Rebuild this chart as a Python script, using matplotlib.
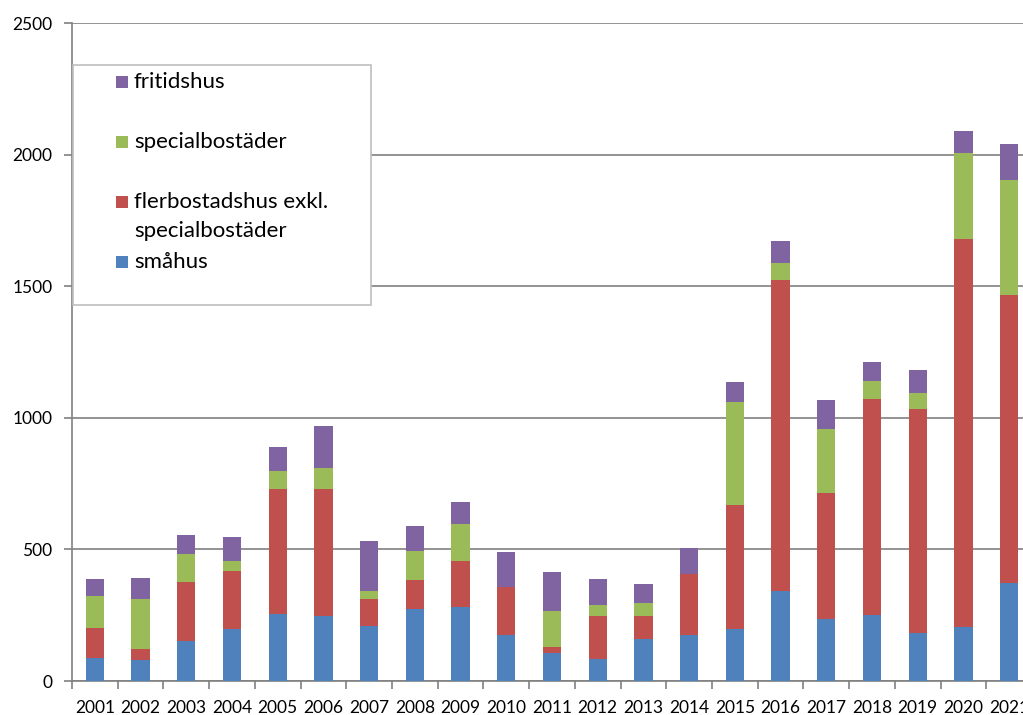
import numpy as np
import matplotlib
matplotlib.use("Agg")
import matplotlib.pyplot as plt
from matplotlib.patches import Rectangle

plt.rcParams['font.family'] = ['Lato', 'DejaVu Sans']

# data
years = [str(y) for y in range(2001, 2022)]
smahus = [86, 80, 153, 196, 254, 246, 210, 272, 282, 174, 105, 83, 158, 176,
          199, 342, 237, 251, 181, 206, 371]
flerbostadshus = [117, 42, 223, 221, 476, 485, 103, 111, 174, 183, 24, 165, 90, 229,
                  470, 1181, 478, 820, 851, 1474, 1096]
specialbostader = [120, 190, 108, 40, 66, 77, 29, 110, 140, 0, 137, 40, 48, 0,
                   392, 66, 244, 70, 64, 327, 435]
fritidshus = [65, 81, 71, 91, 92, 160, 189, 97, 85, 133, 150, 99, 74, 102,
              74, 82, 108, 70, 84, 81, 140]

series = [
    ("småhus", smahus, "#4F81BD"),
    ("flerbostadshus exkl.\nspecialbostäder", flerbostadshus, "#C0504D"),
    ("specialbostäder", specialbostader, "#9BBB59"),
    ("fritidshus", fritidshus, "#8064A2"),
]

fig = plt.figure(figsize=(10.23, 7.15), dpi=100)
ax = fig.add_axes([72 / 1023, 1 - 681 / 715, 960 / 1023, 658 / 715])

x = np.arange(len(years))
bottom = np.zeros(len(years))
for name, vals, col in series:
    ax.bar(x, vals, width=0.4, bottom=bottom, color=col, zorder=3)
    bottom += np.array(vals)

ax.set_xlim(-0.5, len(years) - 0.5)
ax.set_ylim(0, 2500)
ax.set_yticks(range(0, 2501, 500))
ax.yaxis.grid(True, color="#808080", linewidth=1.2, zorder=0)

# ticks between categories, labels at centres
ax.set_xticks(np.arange(-0.5, len(years), 1.0))
ax.set_xticklabels([])
ax.set_xticks(x, minor=True)
ax.set_xticklabels(years, minor=True, fontsize=12.5)
ax.tick_params(axis="x", which="minor", length=0, pad=14)
ax.tick_params(axis="x", which="major", length=6, color="#808080", width=1.2)
ax.tick_params(axis="y", length=6, color="#808080", width=1.2, labelsize=12.5, pad=8)

for s in ["top", "right"]:
    ax.spines[s].set_visible(False)
for s in ["left", "bottom"]:
    ax.spines[s].set_color("#808080")
    ax.spines[s].set_linewidth(1.2)

# legend box
fig.patches.append(Rectangle((73 / 1023, 1 - 305 / 715), 298 / 1023, 240 / 715,
                             transform=fig.transFigure, facecolor="white",
                             edgecolor="#BFBFBF", linewidth=1.2, zorder=5))
leg_items = [("fritidshus", "#8064A2", 82),
             ("specialbostäder", "#9BBB59", 142),
             ("flerbostadshus exkl.", "#C0504D", 202),
             ("specialbostäder", None, 231),
             ("småhus", "#4F81BD", 262)]
for label, col, ypix in leg_items:
    if col is not None:
        fig.patches.append(Rectangle((116 / 1023, 1 - (ypix + 6) / 715), 12 / 1023, 12 / 715,
                                     transform=fig.transFigure, facecolor=col,
                                     edgecolor="none", zorder=6))
    fig.text(134 / 1023, 1 - ypix / 715, label, fontsize=16, va="center",
             ha="left", zorder=7)

fig.savefig("out.png", dpi=100)
